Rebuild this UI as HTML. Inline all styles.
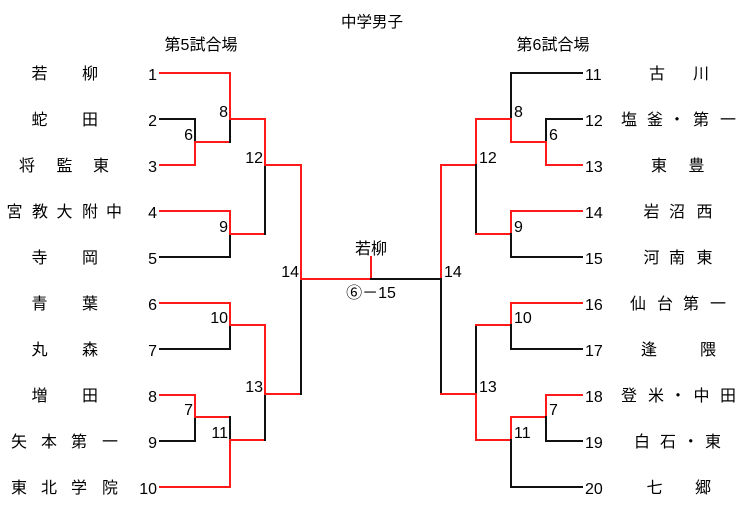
<!DOCTYPE html>
<html><head><meta charset="utf-8"><style>
html,body{margin:0;padding:0;background:#fff;}
svg{display:block;}
text{font-family:"Liberation Sans","Noto Sans CJK JP",sans-serif;fill:#000;}
.n{font-size:16px;}
.t{font-size:15.5px;}
.nm{font-size:16px;}
.r{stroke:#ff1a1a;stroke-width:2;fill:none;stroke-linecap:square;}
.b{stroke:#111;stroke-width:2;fill:none;stroke-linecap:square;}
</style></head><body>
<svg width="749" height="508" viewBox="0 0 749 508" xmlns="http://www.w3.org/2000/svg">
<!-- titles -->
<text class="t" x="372" y="27" text-anchor="middle">中学男子</text>
<text class="nm" x="201" y="50" text-anchor="middle">第5試合場</text>
<text class="nm" x="553" y="50" text-anchor="middle">第6試合場</text>

<!-- LEFT rows -->
<path class="r" d="M160 73H230"/>
<path class="b" d="M160 119H195"/>
<path class="r" d="M160 165H195"/>
<path class="r" d="M160 211H230"/>
<path class="b" d="M160 257H230"/>
<path class="r" d="M160 303H230"/>
<path class="b" d="M160 349H230"/>
<path class="r" d="M160 395H195"/>
<path class="b" d="M160 441H195"/>
<path class="r" d="M160 487H230"/>
<!-- match 6 L -->
<path class="b" d="M195 119V142"/><path class="r" d="M195 142V165"/><path class="r" d="M195 142H230"/>
<!-- match 8 L -->
<path class="r" d="M230 73V119"/><path class="b" d="M230 119V142"/><path class="r" d="M230 119H265"/>
<!-- match 9 L -->
<path class="r" d="M230 211V234"/><path class="b" d="M230 234V257"/><path class="r" d="M230 234H265"/>
<!-- match 12 L -->
<path class="r" d="M265 119V165"/><path class="b" d="M265 165V234"/><path class="r" d="M265 165H301"/>
<!-- match 10 L -->
<path class="r" d="M230 303V325"/><path class="b" d="M230 325V349"/><path class="r" d="M230 325H265"/>
<!-- match 7 L -->
<path class="r" d="M195 395V417"/><path class="b" d="M195 417V441"/><path class="r" d="M195 417H230"/>
<!-- match 11 L -->
<path class="b" d="M230 417V440"/><path class="r" d="M230 440V487"/><path class="r" d="M230 440H265"/>
<!-- match 13 L -->
<path class="r" d="M265 325V394"/><path class="b" d="M265 394V440"/><path class="r" d="M265 394H301"/>
<!-- match 14 L -->
<path class="r" d="M301 165V279"/><path class="b" d="M301 279V394"/><path class="r" d="M301 279H371"/>
<!-- final -->
<path class="r" d="M371 257V279"/><path class="b" d="M371 279H441"/>
<!-- match 14 R -->
<path class="r" d="M441 165V279"/><path class="b" d="M441 279V394"/>
<path class="r" d="M441 165H476"/><path class="r" d="M441 394H476"/>
<!-- match 12 R -->
<path class="r" d="M476 119V165"/><path class="b" d="M476 165V234"/>
<path class="r" d="M476 119H511"/><path class="r" d="M476 234H511"/>
<!-- match 8 R -->
<path class="b" d="M511 73V119"/><path class="r" d="M511 119V142"/><path class="r" d="M511 142H546"/>
<!-- match 6 R -->
<path class="b" d="M546 119V142"/><path class="r" d="M546 142V165"/>
<!-- match 9 R -->
<path class="r" d="M511 211V234"/><path class="b" d="M511 234V257"/>
<!-- match 13 R -->
<path class="b" d="M476 325V394"/><path class="r" d="M476 394V440"/>
<path class="r" d="M476 325H511"/><path class="r" d="M476 440H511"/>
<!-- match 10 R -->
<path class="r" d="M511 303V325"/><path class="b" d="M511 325V349"/>
<!-- match 11 R -->
<path class="r" d="M511 417V440"/><path class="b" d="M511 440V487"/><path class="r" d="M511 417H546"/>
<!-- match 7 R -->
<path class="r" d="M546 395V417"/><path class="b" d="M546 417V441"/>
<!-- RIGHT rows -->
<path class="b" d="M511 73H582"/>
<path class="b" d="M546 119H582"/>
<path class="r" d="M546 165H582"/>
<path class="r" d="M511 211H582"/>
<path class="b" d="M511 257H582"/>
<path class="r" d="M511 303H582"/>
<path class="b" d="M511 349H582"/>
<path class="r" d="M546 395H582"/>
<path class="b" d="M546 441H582"/>
<path class="b" d="M511 487H582"/>

<!-- left row numbers -->
<g class="n" text-anchor="end">
<text x="157" y="80">1</text>
<text x="157" y="126">2</text>
<text x="157" y="172">3</text>
<text x="157" y="218">4</text>
<text x="157" y="264">5</text>
<text x="157" y="310">6</text>
<text x="157" y="356">7</text>
<text x="157" y="402">8</text>
<text x="157" y="448">9</text>
<text x="157" y="494">10</text>
</g>
<!-- right row numbers -->
<g class="n" text-anchor="start">
<text x="585" y="80">11</text>
<text x="585" y="126">12</text>
<text x="585" y="172">13</text>
<text x="585" y="218">14</text>
<text x="585" y="264">15</text>
<text x="585" y="310">16</text>
<text x="585" y="356">17</text>
<text x="585" y="402">18</text>
<text x="585" y="448">19</text>
<text x="585" y="494">20</text>
</g>
<!-- left match labels -->
<g class="n" text-anchor="end">
<text x="228" y="117">8</text>
<text x="193" y="140">6</text>
<text x="263" y="163">12</text>
<text x="228" y="232">9</text>
<text x="299" y="277">14</text>
<text x="228" y="323">10</text>
<text x="263" y="392">13</text>
<text x="193" y="415">7</text>
<text x="228" y="438">11</text>
</g>
<!-- right match labels -->
<g class="n" text-anchor="start">
<text x="514" y="117">8</text>
<text x="549" y="140">6</text>
<text x="479" y="163">12</text>
<text x="514" y="232">9</text>
<text x="444" y="277">14</text>
<text x="514" y="323">10</text>
<text x="479" y="392">13</text>
<text x="549" y="415">7</text>
<text x="514" y="438">11</text>
</g>
<!-- center -->
<text class="nm" x="371" y="254" text-anchor="middle">若柳</text>
<text class="nm" x="371" y="298" text-anchor="middle">⑥－15</text>

<!-- left team names -->
<g class="nm" text-anchor="middle">
<text x="39.5" y="79">若</text><text x="90" y="79">柳</text>
<text x="39.5" y="125">蛇</text><text x="90" y="125">田</text>
<text x="27" y="171">将</text><text x="64.5" y="171">監</text><text x="101" y="171">東</text>
<text x="14.5" y="217">宮</text><text x="40" y="217">教</text><text x="64.5" y="217">大</text><text x="90" y="217">附</text><text x="114" y="217">中</text>
<text x="39.5" y="263">寺</text><text x="90" y="263">岡</text>
<text x="39.5" y="309">青</text><text x="90" y="309">葉</text>
<text x="39.5" y="355">丸</text><text x="90" y="355">森</text>
<text x="39.5" y="401">増</text><text x="90" y="401">田</text>
<text x="19" y="447">矢</text><text x="49" y="447">本</text><text x="79" y="447">第</text><text x="110" y="447">一</text>
<text x="19" y="493">東</text><text x="49" y="493">北</text><text x="79" y="493">学</text><text x="110" y="493">院</text>
</g>
<!-- right team names -->
<g class="nm" text-anchor="middle">
<text x="657" y="79">古</text><text x="701" y="79">川</text>
<text x="629" y="125">塩</text><text x="655" y="125">釜</text><text x="677" y="125">・</text><text x="701" y="125">第</text><text x="728" y="125">一</text>
<text x="659" y="171">東</text><text x="696.5" y="171">豊</text>
<text x="651.5" y="217">岩</text><text x="677" y="217">沼</text><text x="704.5" y="217">西</text>
<text x="651.5" y="263">河</text><text x="677" y="263">南</text><text x="704.5" y="263">東</text>
<text x="638" y="309">仙</text><text x="665" y="309">台</text><text x="691" y="309">第</text><text x="718" y="309">一</text>
<text x="649" y="355">逢</text><text x="708" y="355">隈</text>
<text x="629" y="401">登</text><text x="656" y="401">米</text><text x="678" y="401">・</text><text x="701.5" y="401">中</text><text x="728" y="401">田</text>
<text x="642" y="447">白</text><text x="668" y="447">石</text><text x="690.7" y="447">・</text><text x="713" y="447">東</text>
<text x="654.5" y="493">七</text><text x="703" y="493">郷</text>
</g>
</svg>
</body></html>
